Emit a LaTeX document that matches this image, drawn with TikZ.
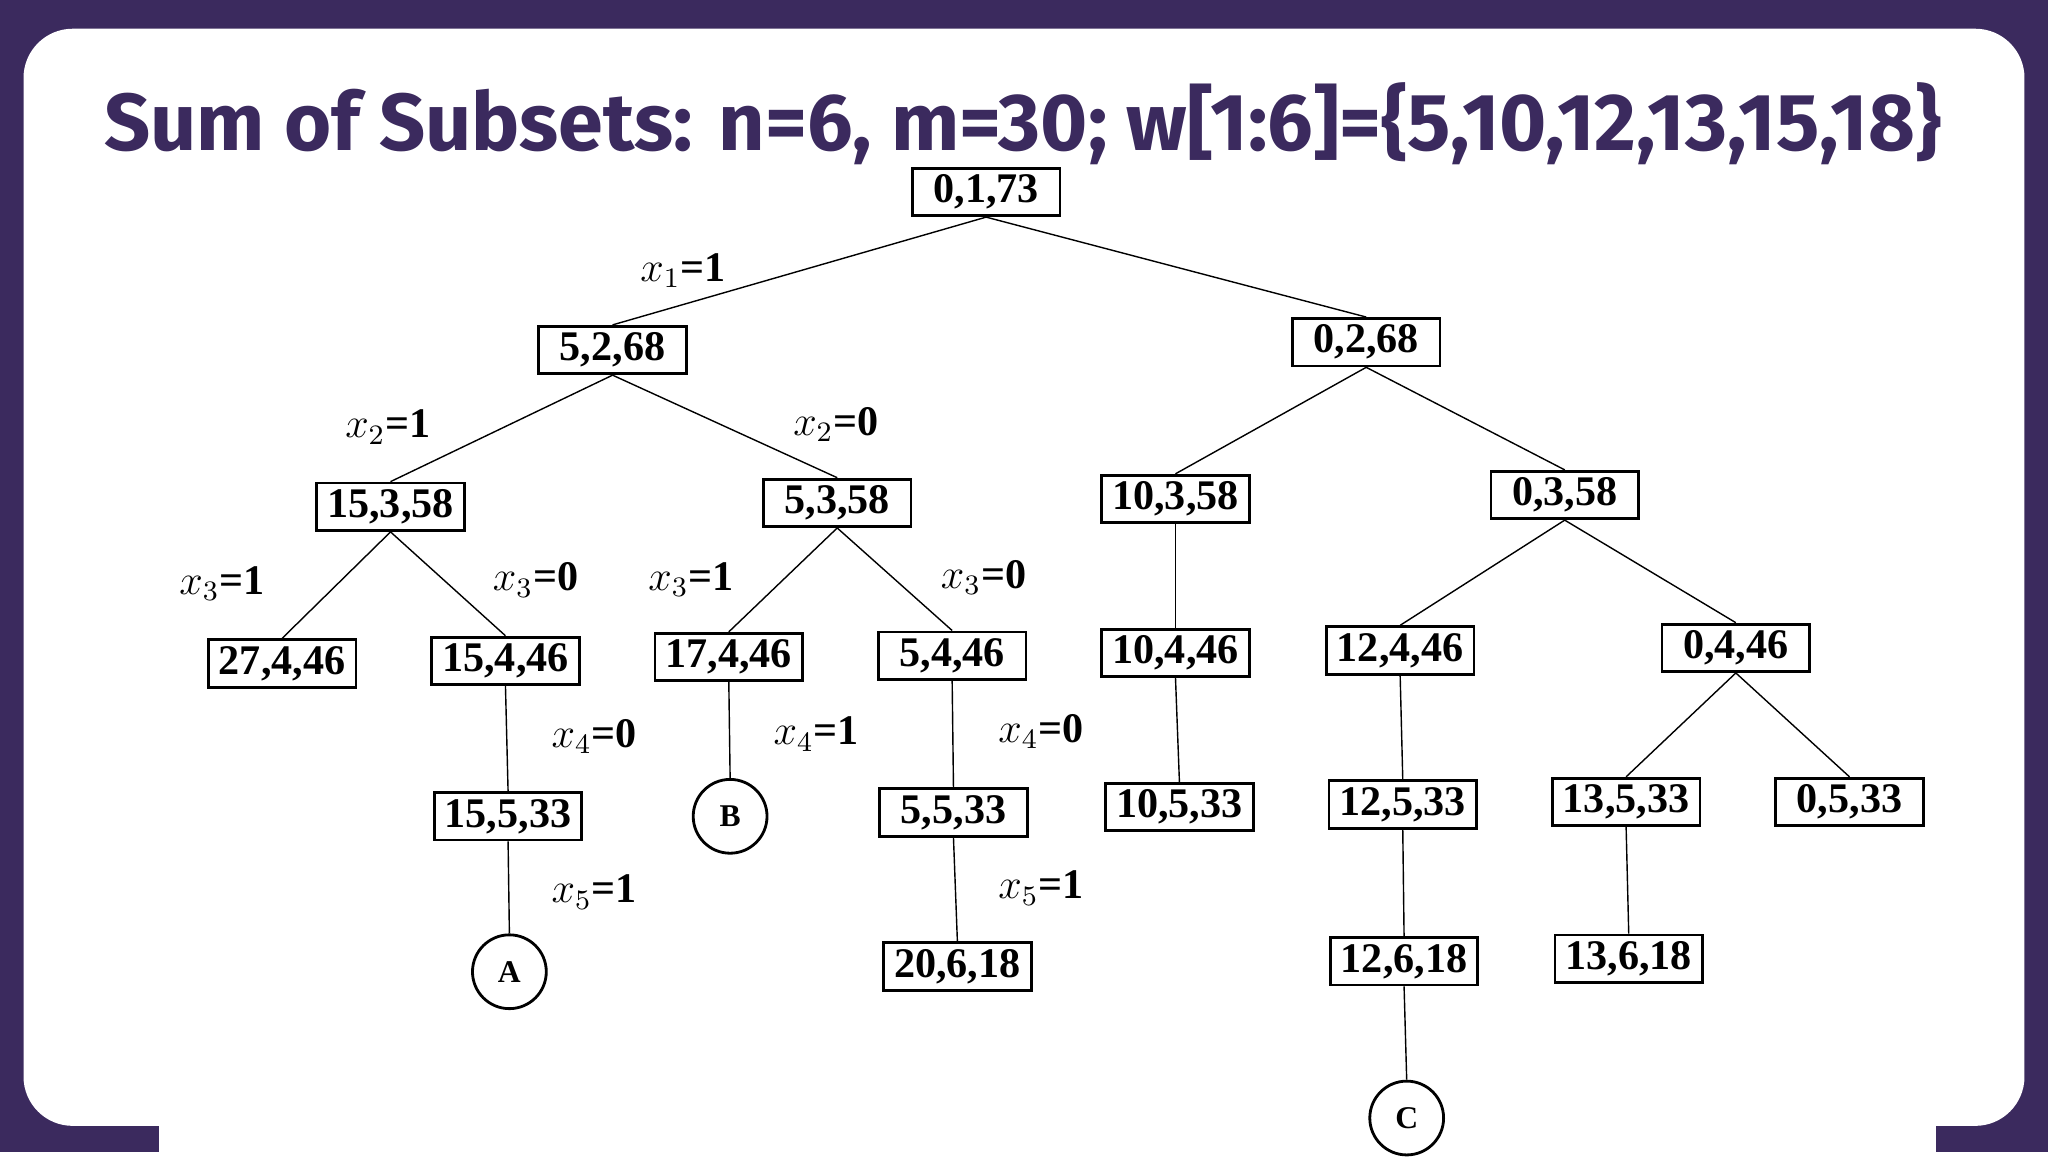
\documentclass[tikz,border=0pt]{standalone}
\usepackage{fontspec}
\setmainfont{Liberation Serif}
\newfontfamily\titlefont{Fira Sans}
\usetikzlibrary{calc, positioning}
\definecolor{framepurple}{HTML}{3B2A5E}
\tikzset{
  st/.style={draw, thick, fill=white, inner sep=0pt, minimum width=42pt, minimum height=13.5pt, font=\bfseries\fontsize{12}{13}\selectfont},
  leaf/.style={draw, thick, circle, inner sep=0pt, minimum size=21pt, font=\bfseries\small},
  lbl/.style={font=\bfseries\fontsize{12}{13}\selectfont}
}
\begin{document}
\begin{tikzpicture}[x=0.01306cm, y=-0.01306cm]
	\fill[framepurple] (0,0) rectangle (1568,882);
	\fill[white, rounded corners=14pt] (18,22) rectangle (1550,862);
	\fill[white] (122,840) rectangle (1482,882);
	\node[text=framepurple, font=\titlefont\bfseries\fontsize{23}{27}\selectfont] (title) at (783,95) {Sum of Subsets: n=6, m=30; w[1:6]=\{5,10,12,13,15,18\}};
	
	\node[st] (s0) at (755,147) {0,1,73};
	\node[st] (s1) at (469,268) {5,2,68};
	\node[st] (s2) at (1046,262) {0,2,68};
	\node[st] (s3) at (299,388) {15,3,58};
	\node[st] (s4) at (641,385) {5,3,58};
	\node[st] (s5) at (900,382) {10,3,58};
	\node[st] (s6) at (1198,379) {0,3,58};
	\node[st] (s7) at (216,508) {27,4,46};
	\node[st] (s8) at (387,506) {15,4,46};
	\node[st] (s9) at (558,503) {17,4,46};
	\node[st] (s10) at (729,502) {5,4,46};
	\node[st] (s11) at (900,500) {10,4,46};
	\node[st] (s12) at (1072,498) {12,4,46};
	\node[st] (s13) at (1329,496) {0,4,46};
	\node[st] (s14) at (389,625) {15,5,33};
	\node[leaf] (B) at (559,625) {B};
	\node[st] (s15) at (730,622) {5,5,33};
	\node[st] (s16) at (903,618) {10,5,33};
	\node[st] (s17) at (1074,616) {12,5,33};
	\node[st] (s18) at (1245,614) {13,5,33};
	\node[st] (s19) at (1416,614) {0,5,33};
	\node[leaf] (A) at (390,744) {A};
	\node[st] (s20) at (733,740) {20,6,18};
	\node[st] (s21) at (1075,736) {12,6,18};
	\node[st] (s22) at (1247,734) {13,6,18};
	\node[leaf] (C) at (1077,856) {C};
	
	% tree edges
	\foreach \p/\c in {s0/s1, s0/s2, s1/s3, s1/s4, s2/s5, s2/s6, s3/s7, s3/s8, s4/s9, s4/s10,
	                   s5/s11, s6/s12, s6/s13, s8/s14, s9/B, s10/s15, s11/s16, s12/s17,
	                   s13/s18, s13/s19, s14/A, s15/s20, s17/s21, s18/s22, s21/C}
		\draw (\p.south) -- (\c.north);
	
	\node[lbl] at (523,207) {$x_1$=1};
	\node[lbl] at (297,327) {$x_2$=1};
	\node[lbl] at (640,325) {$x_2$=0};
	\node[lbl] at (170,447) {$x_3$=1};
	\node[lbl] at (410,444) {$x_3$=0};
	\node[lbl] at (529,444) {$x_3$=1};
	\node[lbl] at (753,442) {$x_3$=0};
	\node[lbl] at (455,564) {$x_4$=0};
	\node[lbl] at (625,562) {$x_4$=1};
	\node[lbl] at (797,560) {$x_4$=0};
	\node[lbl] at (455,683) {$x_5$=1};
	\node[lbl] at (797,680) {$x_5$=1};
\end{tikzpicture}
\end{document}
